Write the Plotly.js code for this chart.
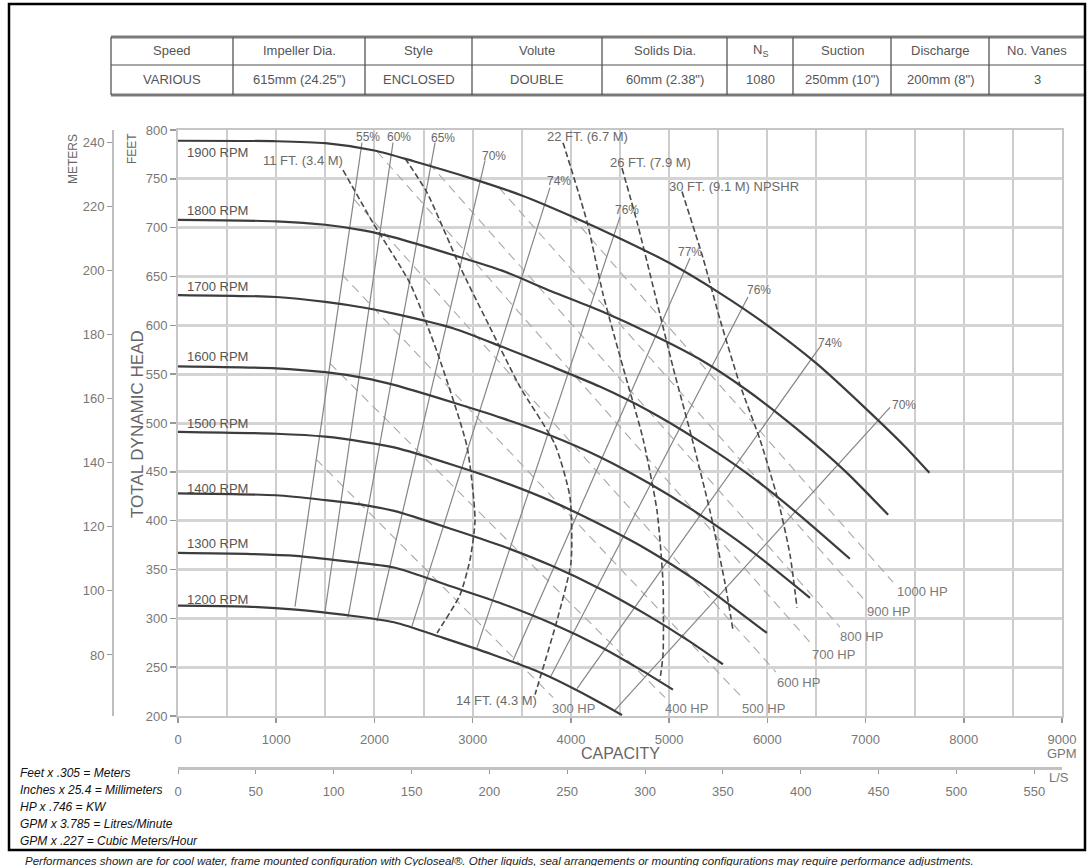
<!DOCTYPE html>
<html><head><meta charset="utf-8">
<script src="https://cdn.plot.ly/plotly-3.0.1.min.js"></script>
<style>html,body{margin:0;padding:0;background:#fff;}#chart{width:1090px;height:866px;}</style>
</head><body><div id="chart"></div>
<script>
// ---------------- DATA ----------------
// Table
const tableHeaders = ['Speed','Impeller Dia.','Style','Volute','Solids Dia.','N<sub>S</sub>','Suction','Discharge','No. Vanes'];
const tableValues  = ['VARIOUS','615mm (24.25")','ENCLOSED','DOUBLE','60mm (2.38")','1080','250mm (10")','200mm (8")','3'];

// Head-capacity curves (GPM, feet)
const rpmLabels = ['1900 RPM','1800 RPM','1700 RPM','1600 RPM','1500 RPM','1400 RPM','1300 RPM','1200 RPM'];
const q1900 = [0,1000,1500,2000,2400,3000,3500,4000,4500,5000,5500,6000,6500,7000,7400,7650];
const h1900 = [789,788.5,786.5,779,768,750,733,712,689,664,634,600,561,515,476,449];
const q1800 = [0,1000,1500,1900,2200,2800,3300,3800,4300,4800,5300,5800,6300,6800,7230];
const h1800 = [708,706.5,703,697,690,672,656,635,615,592,566,533,494,450,406];
const q1700 = [0,1000,1500,1900,2200,2800,3300,3800,4300,4800,5300,5800,6300,6840];
const h1700 = [631,629,624,618,612,597,578,558,537,512,482,448,408,361];
const q1600 = [0,1000,1500,1900,2200,2800,3300,3800,4300,4800,5300,5800,6434];
const h1600 = [558,556,552,546,539,521,505,487,465,438,407,372,321];
const q1500 = [0,1000,1500,1900,2200,2800,3300,3800,4300,4800,5300,5600,5996];
const h1500 = [491,489,486,480.5,475,457,440,420,396,369,337,315,285];
const q1400 = [0,1000,1500,1900,2200,2800,3300,3800,4300,4800,5200,5548];
const h1400 = [428,426,421,416,410,391,374,354,330,302,277,253];
const q1300 = [0,700,1200,1700,2200,2800,3300,3800,4300,4700,5039];
const h1300 = [367,366,364,358.5,352,332,315,295,271,248,227];
const q1200 = [0,700,1200,1700,2200,2700,3200,3700,4200,4520];
const h1200 = [313,312,309,303.5,296,280,263,244,219,201];
const rpmLabelQ = [70,70,70,70,70,70,70,70];
const rpmLabelH = [777,718,640,568,499,433,377,319];

// Efficiency lines
const effNames = ['55%','60%','65%','70%','74%','76%','77%','76%','74%','70%'];
const effQ = [[1191,1873],[1497,2189],[1731,2617],[2026,3126],[2382,3787],[3044,4500],[3411,5213],[3797,5803],[4062,6536],[4449,7249]];
const effH = [[312,787],[307,787],[301,787],[297,769],[292,741],[270,711],[257,669],[241,629],[228,578],[206,516]];
const effLabelQ = [1934,2250,2698,3217,3879,4571,5213,5915,6638,7391];
const effLabelH = [793,793,792,773,748,718,675,636,582,518];

// NPSHR lines
const npshNames = ['11 FT. (3.4 M)','14 FT. (4.3 M)','22 FT. (6.7 M)','26 FT. (7.9 M)','30 FT. (9.1 M) NPSHR'];
const npsh11Q = [1680,1985,2362,2637,2942,3024,2973,2871,2637];
const npsh11H = [759,705,643,573,476,401,360,324,285];
const npsh14Q = [2311,2535,2871,3176,3482,3838,3991,4001,3859,3635];
const npsh14H = [771,736,660,598,537,478,424,357,298,222];
const npsh22Q = [3920,4164,4327,4531,4734,4877,4938,4938,4907];
const npsh22H = [787,706,632,557,484,410,336,263,237];
const npsh26Q = [4520,4673,4856,5040,5233,5416,5569,5650];
const npsh26H = [761,706,632,557,484,410,336,288];
const npsh30Q = [5131,5345,5518,5722,5925,6109,6231,6302];
const npsh30H = [737,669,606,539,483,421,365,311];
const npshLabelQ = [1273,3238,4174,4806,4978];
const npshLabelH = [769,216,793,767,742];

// Horsepower lines
const hpNames = ['300 HP','400 HP','500 HP','600 HP','700 HP','800 HP','900 HP','1000 HP'];
const hpQ = [[1405,3818],[1548,4958],[1670,5742],[1792,6088],[2026,6455],[2555,6740],[3268,7005],[4001,7279]];
const hpH = [[463,219],[561,219],[652,219],[729,245],[778,273],[766,291],[741,317],[712,337]];
const hpLabelQ = [3787,4938,5722,6078,6434,6719,6994,7300];
const hpLabelH = [208,208,208,234,263,281,307,327];

// Axes
const gpmRange = [0,9000];
const feetRange = [200,800];
const lsRange = [0, 9000/15.8503];
const meterRange = [200*0.3048, 800*0.3048];

const notes = ['Feet x .305 = Meters','Inches x 25.4 = Millimeters','HP x .746 = KW','GPM x 3.785 = Litres/Minute','GPM x .227 = Cubic Meters/Hour'];
const footer = 'Performances shown are for cool water, frame mounted configuration with Cycloseal\u00AE. Other liquids, seal arrangements or mounting configurations may require performance adjustments.';

// ---------------- LAYOUT HELPERS ----------------
const ML=113, MR=28, MT=130, MB=98, PW=1090-ML-MR, PH=866-MT-MB;
const px = x => (x-ML)/PW;
const py = y => (768-y)/PH;
const FONT = 'Liberation Sans, Arial, sans-serif';
const GREY = '#666';

const traces = [];
hpNames.forEach((n,i)=>traces.push({x:hpQ[i],y:hpH[i],mode:'lines',line:{color:'#a8a8a8',width:1.1,dash:'9px,6px'},hoverinfo:'skip'}));
effNames.forEach((n,i)=>traces.push({x:effQ[i],y:effH[i],mode:'lines',line:{color:'#858585',width:1.2},hoverinfo:'skip'}));
[[npsh11Q,npsh11H],[npsh14Q,npsh14H],[npsh22Q,npsh22H],[npsh26Q,npsh26H],[npsh30Q,npsh30H]].forEach(d=>
  traces.push({x:d[0],y:d[1],mode:'lines',line:{color:'#4a4a4a',width:1.6,dash:'6px,3px',shape:'spline',smoothing:0.6},hoverinfo:'skip'}));
[[q1900,h1900],[q1800,h1800],[q1700,h1700],[q1600,h1600],[q1500,h1500],[q1400,h1400],[q1300,h1300],[q1200,h1200]].forEach(d=>
  traces.push({x:d[0],y:d[1],mode:'lines',line:{color:'#3c3c3c',width:2.2,shape:'spline',smoothing:0.7},hoverinfo:'skip'}));
traces.push({x:lsRange,y:feetRange,xaxis:'x2',yaxis:'y',mode:'none',hoverinfo:'skip'});
traces.push({x:gpmRange,y:meterRange,xaxis:'x',yaxis:'y2',mode:'none',hoverinfo:'skip'});

const ann = [];
const pa = (text,x,y,o={}) => ann.push(Object.assign({text,xref:'paper',yref:'paper',x:px(x),y:py(y),showarrow:false,xanchor:'center',yanchor:'middle',font:{family:FONT,size:13,color:GREY}},o));
const da = (text,x,y,o={}) => ann.push(Object.assign({text,xref:'x',yref:'y',x,y,showarrow:false,xanchor:'center',yanchor:'middle',font:{family:FONT,size:12,color:'#6a6a6a'}},o));

rpmLabels.forEach((t,i)=>da(t,rpmLabelQ[i],rpmLabelH[i],{xanchor:'left',font:{family:FONT,size:13,color:'#555'}}));
effNames.forEach((t,i)=>da(t,effLabelQ[i],effLabelH[i]));
npshNames.forEach((t,i)=>da(t,npshLabelQ[i],npshLabelH[i],{xanchor:i===4?'left':'center',font:{family:FONT,size:13,color:'#6a6a6a'}}));
hpNames.forEach((t,i)=>da(t,hpLabelQ[i],hpLabelH[i],{xanchor:'left',font:{family:FONT,size:13,color:'#7a7a7a'}}));

pa('METERS',73,159,{textangle:-90,font:{family:FONT,size:12,color:GREY}});
pa('FEET',132,149,{textangle:-90,font:{family:FONT,size:12,color:GREY}});
pa('TOTAL DYNAMIC HEAD',137,424,{textangle:-90,font:{family:FONT,size:17,color:GREY}});
pa('CAPACITY',620,753,{font:{family:FONT,size:16,color:GREY}});
pa('GPM',1062,753,{font:{family:FONT,size:13,color:'#777'}});
pa('L/S',1059,777,{font:{family:FONT,size:13,color:'#777'}});

const colEdges = [111,233,365,472,602,727,793,891,989,1085];
tableHeaders.forEach((t,i)=>{
  const c = i<8 ? (colEdges[i]+colEdges[i+1])/2 : 1037;
  pa(t,c,51,{font:{family:FONT,size:13,color:'#555'}});
  pa(tableValues[i],c,80,{font:{family:FONT,size:13,color:'#555'}});
});
notes.forEach((t,i)=>pa('<i>'+t+'</i>',18,773+i*17,{xanchor:'left',font:{family:FONT,size:12,color:'#111'}}));
pa('<i>'+footer+'</i>',23,861,{xanchor:'left',font:{family:FONT,size:11.5,color:'#222'}});

const shapes = [];
const line = (x0,y0,x1,y1,color,width)=>shapes.push({type:'line',xref:'paper',yref:'paper',x0:px(x0),y0:py(y0),x1:px(x1),y1:py(y1),line:{color,width}});
line(111,37,1085,37,'#7a7a7a',3);
line(111,65,1085,65,'#8a8a8a',1.3);
line(111,95,1085,95,'#7a7a7a',3);
colEdges.slice(0,9).forEach(x=>line(x,37,x,95,'#555',1.3));
shapes.push({type:'rect',xref:'paper',yref:'paper',x0:px(9),y0:py(4),x1:px(1085),y1:py(850),line:{color:'#000',width:2.5},fillcolor:'rgba(0,0,0,0)'});

const axFont = {family:FONT,size:13,color:'#777'};
const layout = {
  width:1090,height:866,
  margin:{l:ML,r:MR,t:MT,b:MB,pad:0},
  paper_bgcolor:'#fff',plot_bgcolor:'#fff',showlegend:false,
  font:{family:FONT,color:GREY},
  xaxis:{domain:[65/PW,1],range:gpmRange,tick0:0,dtick:1000,showgrid:true,gridcolor:'#cdcdcd',gridwidth:2,
    minor:{dtick:500,showgrid:true,gridcolor:'#cdcdcd',gridwidth:2},
    ticks:'outside',ticklen:5,tickwidth:1.5,tickcolor:'#999',showline:true,linecolor:'#c6c6c6',linewidth:2,mirror:true,
    zeroline:false,tickfont:axFont,ticklabelstandoff:5,fixedrange:true},
  xaxis2:{overlaying:'x',anchor:'free',position:0,range:lsRange,tick0:0,dtick:50,showgrid:false,zeroline:false,
    showline:true,linecolor:'#c2c2c2',linewidth:3,ticks:'outside',ticklen:4,tickcolor:'#999',tickfont:axFont,ticklabelstandoff:6,fixedrange:true},
  yaxis:{domain:[52/PH,1],range:feetRange,tick0:0,dtick:50,showgrid:true,gridcolor:'#d4d4d4',gridwidth:3,
    ticks:'outside',ticklen:6,tickwidth:1.5,tickcolor:'#999',showline:true,linecolor:'#c6c6c6',linewidth:2,mirror:true,
    zeroline:false,tickfont:axFont,fixedrange:true},
  yaxis2:{overlaying:'y',anchor:'free',position:0,side:'left',range:meterRange,tick0:0,dtick:20,showgrid:false,zeroline:false,
    showline:true,linecolor:'#bdbdbd',linewidth:2,ticks:'outside',ticklen:5,tickcolor:'#999',tickfont:axFont,fixedrange:true},
  shapes,annotations:ann
};
Plotly.newPlot('chart',traces,layout,{displayModeBar:false,staticPlot:true});
</script></body></html>
